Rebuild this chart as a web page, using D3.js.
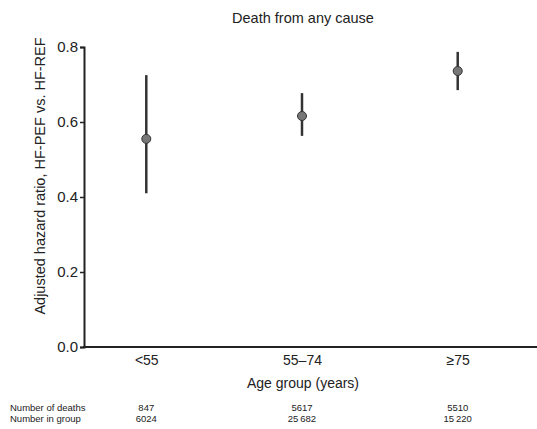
<!DOCTYPE html>
<html>
<head>
<meta charset="utf-8">
<script src="https://d3js.org/d3.v7.min.js"></script>
<style>
  body { margin: 0; background: #fff; }
  text { font-family: "Liberation Sans", Arial, sans-serif; fill: #222; }
</style>
</head>
<body>
<script>
let width = 537, height = 429;

// data
let groups = ["<55", "55\u201374", "\u226575"];
let hr = [0.555, 0.616, 0.736];
let lower = [0.41, 0.563, 0.685];
let upper = [0.725, 0.677, 0.787];
let deaths = ["847", "5617", "5510"];
let inGroup = ["6024", "25\u2009682", "15\u2009220"];
let yTicks = [0, 0.2, 0.4, 0.6, 0.8];

let svg = d3.select("body").append("svg")
    .attr("width", width)
    .attr("height", height);

let x = d3.scalePoint()
    .domain(groups)
    .range([84, 520])
    .padding(0.4);

let y = d3.scaleLinear()
    .domain([0, 0.8])
    .range([347, 47]);

// title
svg.append("text")
    .attr("x", 303).attr("y", 23)
    .attr("text-anchor", "middle")
    .style("font-size", "14.5px")
    .text("Death from any cause");

// y axis
let yAxis = svg.append("g")
    .attr("transform", "translate(84,0)")
    .call(d3.axisLeft(y).tickValues(yTicks).tickFormat(d3.format(".1f")).tickSize(4).tickPadding(2));
yAxis.select(".domain").attr("stroke", "#222").attr("stroke-width", 2);
yAxis.selectAll(".tick line").attr("stroke", "#222").attr("stroke-width", 1.5);
yAxis.selectAll(".tick text").style("font-size", "15px").style("font-family", "Liberation Sans, Arial, sans-serif").attr("fill", "#222");

// x axis: line + category labels
svg.append("line")
    .attr("x1", 83).attr("x2", width)
    .attr("y1", y(0)).attr("y2", y(0))
    .attr("stroke", "#222").attr("stroke-width", 2);

let xAxis = svg.append("g")
    .attr("transform", `translate(0,${y(0)})`)
    .call(d3.axisBottom(x).tickSize(0).tickPadding(8));
xAxis.select(".domain").remove();
xAxis.selectAll(".tick text").style("font-size", "14px").style("font-family", "Liberation Sans, Arial, sans-serif").attr("fill", "#222");

// axis titles
svg.append("text")
    .attr("x", 303).attr("y", 388)
    .attr("text-anchor", "middle")
    .style("font-size", "14px")
    .text("Age group (years)");

svg.append("text")
    .attr("transform", "translate(45,176) rotate(-90)")
    .attr("text-anchor", "middle")
    .style("font-size", "14.5px")
    .text("Adjusted hazard ratio, HF-PEF vs. HF-REF");

// error bars
svg.selectAll("line.ci")
    .data(groups)
    .join("line")
    .attr("class", "ci")
    .attr("x1", d => x(d)).attr("x2", d => x(d))
    .attr("y1", (d, i) => y(lower[i]))
    .attr("y2", (d, i) => y(upper[i]))
    .attr("stroke", "#333")
    .attr("stroke-width", 2.5);

// points
svg.selectAll("circle.pt")
    .data(groups)
    .join("circle")
    .attr("class", "pt")
    .attr("cx", d => x(d))
    .attr("cy", (d, i) => y(hr[i]))
    .attr("r", 4.5)
    .attr("fill", "#777")
    .attr("stroke", "#333")
    .attr("stroke-width", 1);

// table below the chart
let rows = [["Number of deaths", deaths, 411], ["Number in group", inGroup, 422]];
rows.forEach(r => {
    svg.append("text")
        .attr("x", 10).attr("y", r[2])
        .style("font-size", "9.5px")
        .text(r[0]);
    svg.selectAll(null)
        .data(groups)
        .join("text")
        .attr("x", d => x(d))
        .attr("y", r[2])
        .attr("text-anchor", "middle")
        .style("font-size", "9.5px")
        .text((d, i) => r[1][i]);
});
</script>
</body>
</html>
